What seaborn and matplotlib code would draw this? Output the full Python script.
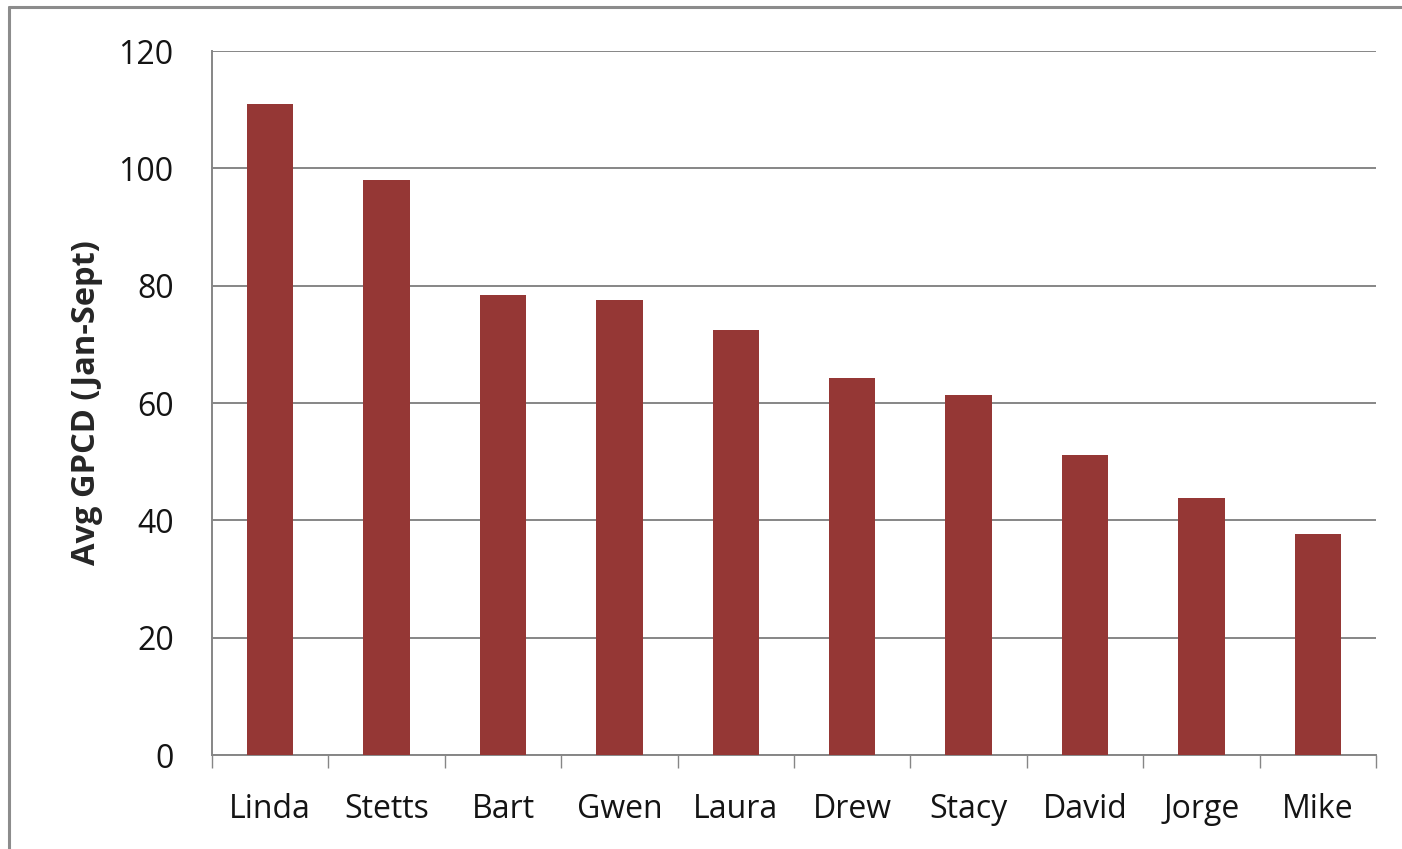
import matplotlib
matplotlib.use("Agg")
import matplotlib.pyplot as plt
import seaborn as sns
import pandas as pd
from matplotlib.lines import Line2D

names = ["Linda", "Stetts", "Bart", "Gwen", "Laura", "Drew", "Stacy", "David", "Jorge", "Mike"]
gpcd = [111.0, 98.0, 78.4, 77.6, 72.4, 64.3, 61.4, 51.1, 43.8, 37.7]
yticks = [0, 20, 40, 60, 80, 100, 120]
ylabel = "Avg GPCD (Jan-Sept)"

sns.set_theme(style="white")
plt.rcParams['font.family'] = ['Open Sans', 'DejaVu Sans']

df = pd.DataFrame({"name": names, "gpcd": gpcd})

fig = plt.figure(figsize=(14.02, 8.49), dpi=100)
ax = fig.add_axes([212/1402, 94/849, 1164/1402, 704/849])

grid_c = "#868686"
sns.barplot(data=df, x="name", y="gpcd", color="#953735", width=0.40,
            saturation=1, ax=ax, zorder=3, edgecolor="none")

ax.set_ylim(0, 120)
ax.set_xlim(-0.5, len(names) - 0.5)
ax.set_yticks(yticks)
ax.set_yticklabels([str(t) for t in yticks])
ax.yaxis.grid(True, color=grid_c, linewidth=1.4, zorder=0)
ax.set_axisbelow(True)

ax.set_xlabel("")
ax.set_ylabel(ylabel, fontsize=23.5, fontweight="bold", labelpad=11)

for s in ["top", "right"]:
    ax.spines[s].set_visible(False)
for s in ["left", "bottom"]:
    ax.spines[s].set_color(grid_c)
    ax.spines[s].set_linewidth(1.4)

ax.tick_params(axis="y", which="major", length=8.6, width=1.0, color=grid_c,
               labelsize=23, pad=19, labelcolor="#141414")
ax.tick_params(axis="x", which="major", length=0, labelsize=23, pad=27,
               labelcolor="#141414")
ax.set_xticks([i - 0.5 for i in range(len(names) + 1)], minor=True)
ax.tick_params(axis="x", which="minor", length=9.5, width=1.0, color=grid_c,
               direction="out", bottom=True)

# outer chart border (left and top)
fig.add_artist(Line2D([9/1402, 9/1402], [0, 1 - 7/849], transform=fig.transFigure,
                      color="#8c8c8c", linewidth=2.2))
fig.add_artist(Line2D([9/1402, 1], [1 - 7/849, 1 - 7/849], transform=fig.transFigure,
                      color="#8c8c8c", linewidth=2.2))

fig.savefig("out.png", dpi=100)
